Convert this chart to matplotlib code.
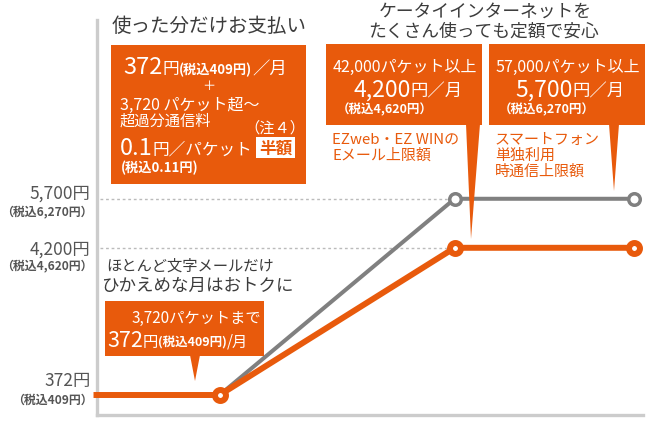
import matplotlib
matplotlib.use("Agg")
import matplotlib.pyplot as plt
from matplotlib.patches import Rectangle, Polygon
import numpy as np

plt.rcParams['font.family'] = ['Noto Sans CJK JP', 'DejaVu Sans']

# data: stages along x (light use -> 3,720 pkt -> flat-rate cap)
x_stage = [0, 1, 2.91, 4.37]
orange_yen = [372, 372, 4200, 4200]      # EZweb / EZ WIN cap
gray_x = x_stage[1:]
gray_yen = [372, 5700, 5700]             # smartphone cap
level_yen = [5700, 4200, 372]
level_main = ['5,700円', '4,200円', '372円']
level_tax = ['（税込6,270円）', '（税込4,620円）', '（税込409円）']

ORANGE = '#e85a0c'
GRAY = '#808080'
DARK = '#3c3c3c'


# piecewise y scale (picture is not linear between the price levels)
def fwd(v):
    v = np.asarray(v, float)
    return np.where(v < 4200, (v - 372) / 26.0, 147.2 + (v - 4200) / 30.6)


def inv(h):
    h = np.asarray(h, float)
    return np.where(h < 147.2, 372 + h * 26.0, 4200 + (h - 147.2) * 30.6)


fig = plt.figure(figsize=(6.54, 4.39), dpi=100)
ax = fig.add_axes([96.5 / 654, 23 / 439, 546.5 / 654, 395 / 439])
ax.set_yscale('function', functions=(fwd, inv))
ax.set_xlim(0, 4.44)
ax.set_ylim(float(inv(-20)), float(inv(375)))
for s in ['top', 'right']:
    ax.spines[s].set_visible(False)
for s in ['left', 'bottom']:
    ax.spines[s].set_color('#cccccc')
    ax.spines[s].set_linewidth(2.4)
ax.set_xticks([])
ax.set_yticks([])
ax.yaxis.set_minor_locator(matplotlib.ticker.NullLocator())

# dashed guide lines
for v in level_yen[:2]:
    ax.plot([0.03, x_stage[2]], [v, v], ls=(0, (2, 2)), color='#bbbbbb', lw=1, zorder=1)

ax.plot(gray_x, gray_yen, color=GRAY, lw=2.9, marker='o', ms=8.3, mfc='white',
        mec=GRAY, mew=2.5, markevery=[1, 2], zorder=3, clip_on=False)
ax.plot(x_stage, orange_yen, color=ORANGE, lw=4.3, marker='o', ms=7.9, mfc='white',
        mec=ORANGE, mew=4.3, markevery=[1, 2, 3], zorder=4, clip_on=False)

# price labels at the left
offs = [(6, -13), (-1, -18), (15, -4)]
for v, m, t, (d1, d2) in zip(level_yen, level_main, level_tax, offs):
    ax.annotate(m, xy=(0, v), xycoords=('axes fraction', 'data'), xytext=(-6, d1),
                textcoords='offset pixels', ha='right', va='center', fontsize=12.5,
                color='#555555', annotation_clip=False)
    ax.annotate(t, xy=(0, v), xycoords=('axes fraction', 'data'), xytext=(-4, d2),
                textcoords='offset pixels', ha='right', va='center', fontsize=8.6,
                fontweight='bold', color='#555555', annotation_clip=False)

# overlay in pixel coordinates for the callouts
ov = fig.add_axes([0, 0, 1, 1], zorder=5)
ov.set_xlim(0, 654)
ov.set_ylim(439, 0)
ov.axis('off')
rend = fig.canvas.get_renderer()


def txt(x, y, s, size, color='white', weight='normal', ha='left', va='center'):
    return ov.text(x, y, s, fontsize=size, color=color, fontweight=weight, ha=ha, va=va)


def run(x, y, parts, center=False, color='white'):
    objs = []
    cx = x
    for s, size, w in parts:
        t = ov.text(cx, y, s, fontsize=size, fontweight=w, color=color, va='baseline')
        cx = t.get_window_extent(rend).x1
        objs.append(t)
    if center:
        shift = (cx - x) / 2
        for t in objs:
            px, py = t.get_position()
            t.set_position((px - shift, py))


def box(x0, y0, x1, y1, tail=None):
    ov.add_patch(Rectangle((x0, y0), x1 - x0, y1 - y0, color=ORANGE, lw=0))
    if tail:
        ov.add_patch(Polygon(tail, closed=True, color=ORANGE, lw=0))


# left box
txt(112, 26, '使った分だけお支払い', 14, DARK)
box(111, 46, 306, 185)
run(123, 74, [('372', 17, 'normal'), ('円', 12, 'normal'),
              ('(税込409円)', 9.5, 'bold'), ('／月', 12.5, 'normal')])
txt(209, 87, '＋', 9.5, ha='center')
txt(120, 105, '3,720 パケット超～', 11.5)
txt(120, 121, '超過分通信料', 11)
txt(275, 128, '（注４）', 11, ha='center')
run(120, 155, [('0.1', 17, 'normal'), ('円／パケット', 12, 'normal')])
ov.add_patch(Rectangle((256, 138), 39, 21, color='white', lw=0))
txt(275.5, 148.5, '半額', 12, ORANGE, 'bold', ha='center')
txt(121, 168, '(税込0.11円)', 9.5, weight='bold')

# title over the two flat-rate boxes
txt(485, 12, 'ケータイインターネットを', 12.8, DARK, ha='center')
txt(484, 32, 'たくさん使っても定額で安心', 12.8, DARK, ha='center')

# EZweb box
box(326, 45, 482, 126, tail=[(466, 125), (480, 125), (471, 240)])
txt(333, 67, '42,000パケット以上', 11.5)
run(408, 97, [('4,200', 16.5, 'normal'), ('円／月', 12.5, 'normal')], center=True)
txt(337, 110, '（税込4,620円）', 9, weight='bold')
txt(332, 140, 'EZweb・EZ WINの', 10.8, ORANGE)
txt(332, 156, 'Eメール上限額', 10.8, ORANGE)

# smartphone box
box(489, 45, 645, 126, tail=[(609, 125), (619, 125), (614, 192)])
txt(495, 67, '57,000パケット以上', 11.5)
run(570, 97, [('5,700', 16.5, 'normal'), ('円／月', 12.5, 'normal')], center=True)
txt(499, 110, '（税込6,270円）', 9, weight='bold')
txt(495, 140, 'スマートフォン', 10.8, ORANGE)
txt(495, 156, '単独利用', 10.8, ORANGE)
txt(495, 172, '時通信上限額', 10.8, ORANGE)

# light-use note and callout
txt(190, 266, 'ほとんど文字メールだけ', 11, DARK, ha='center')
txt(197, 286, 'ひかえめな月はおトクに', 12.6, DARK, ha='center')
box(105, 302, 264, 357, tail=[(190, 356), (200, 356), (195, 382)])
txt(132, 318, '3,720パケットまで', 11)
run(107, 347, [('372', 15.5, 'normal'), ('円', 11, 'normal'),
               ('(税込409円)', 9, 'bold'), ('/月', 11, 'normal')])

fig.savefig('out.png', dpi=100)
